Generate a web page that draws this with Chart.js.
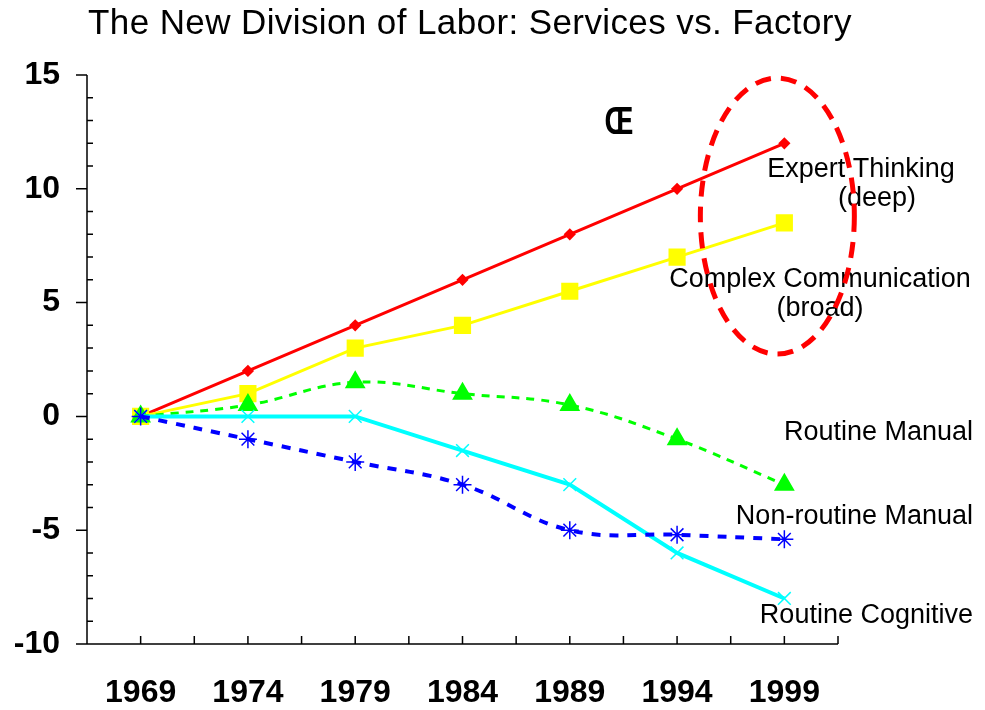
<!DOCTYPE html>
<html>
<head>
<meta charset="utf-8">
<script src="https://cdn.jsdelivr.net/npm/chart.js@4.4.1/dist/chart.umd.min.js"></script>
<style>
  html, body { margin: 0; padding: 0; background: #fff; }
  #laborChart { display: block; }
</style>
</head>
<body>
<canvas id="laborChart" width="985" height="710"></canvas>
<script>
// values
const years = ['1969', '1974', '1979', '1984', '1989', '1994', '1999'];
const expertThinking = [0, 2, 4, 6, 8, 10, 12];
const complexCommunication = [0, 1, 3, 4, 5.5, 7, 8.5];
const routineManual = [0, 0.5, 1.5, 1, 0.5, -1, -3];
const routineCognitive = [0, 0, 0, -1.5, -3, -6, -8];
const nonRoutineManual = [0, -1, -2, -3, -5, -5.2, -5.4];
const yTicks = [-10, -5, 0, 5, 10, 15];

const titleText = 'The New Division of Labor: Services vs. Factory';
const FONT = '"Liberation Sans", Arial, sans-serif';

// series labels drawn next to the lines
const seriesLabels = [
  { text: 'Expert Thinking', x: 861, y: 170, align: 'center' },
  { text: '(deep)', x: 877, y: 199, align: 'center' },
  { text: 'Complex Communication', x: 820, y: 280, align: 'center' },
  { text: '(broad)', x: 820, y: 309, align: 'center' },
  { text: 'Routine Manual', x: 973, y: 433, align: 'right' },
  { text: 'Non-routine Manual', x: 973, y: 517, align: 'right' },
  { text: 'Routine Cognitive', x: 973, y: 616, align: 'right' }
];

const decorPlugin = {
  id: 'decor',
  beforeDatasetsDraw(chart) {
    const ctx = chart.ctx;
    const area = chart.chartArea;
    const xs = chart.scales.x;
    const ys = chart.scales.y;
    const half = (xs.getPixelForValue(1) - xs.getPixelForValue(0)) / 2;
    ctx.save();
    ctx.strokeStyle = '#000';
    ctx.lineWidth = 1.5;
    ctx.beginPath();
    ctx.moveTo(area.left, area.top);
    ctx.lineTo(area.left, area.bottom);
    ctx.moveTo(area.left - 11, area.bottom);
    ctx.lineTo(area.right, area.bottom);
    // major ticks outward, minor ticks inward
    yTicks.forEach(v => {
      const p = ys.getPixelForValue(v);
      ctx.moveTo(area.left - 11, p);
      ctx.lineTo(area.left, p);
    });
    for (let v = -10; v <= 15; v++) {
      if (v % 5 === 0) continue;
      const p = ys.getPixelForValue(v);
      ctx.moveTo(area.left, p);
      ctx.lineTo(area.left + 6, p);
    }
    for (let i = 0; i < years.length; i++) {
      const c = xs.getPixelForValue(i);
      ctx.moveTo(c, area.bottom);
      ctx.lineTo(c, area.bottom - 8);
      ctx.moveTo(c + half, area.bottom);
      ctx.lineTo(c + half, area.bottom - 8);
    }
    ctx.stroke();
    ctx.restore();
  },
  afterDraw(chart) {
    const ctx = chart.ctx;
    const xs = chart.scales.x;
    const ys = chart.scales.y;
    ctx.save();
    ctx.fillStyle = '#000';
    ctx.textBaseline = 'alphabetic';
    ctx.font = '35px ' + FONT;
    ctx.letterSpacing = '0.4px';
    ctx.textAlign = 'left';
    ctx.fillText(titleText, 88, 34);
    ctx.letterSpacing = '0px';

    ctx.textBaseline = 'middle';
    ctx.font = '27px ' + FONT;
    seriesLabels.forEach(l => {
      ctx.textAlign = l.align;
      ctx.fillText(l.text, l.x, l.y);
    });

    // stray glyph from the original slide
    ctx.save();
    ctx.translate(619, 123);
    ctx.scale(0.85, 1.15);
    ctx.font = 'bold 34px ' + FONT;
    ctx.textAlign = 'center';
    ctx.fillText('Œ', 0, 0);
    ctx.restore();

    // dashed ellipse around the two rising series at 1999
    const cx = xs.getPixelForValue(6) - 7;
    const cy = ys.getPixelForValue(8.8);
    ctx.strokeStyle = '#ff0000';
    ctx.lineWidth = 5;
    ctx.setLineDash([16, 10]);
    ctx.beginPath();
    ctx.ellipse(cx, cy, 77, 138, 0, 0, Math.PI * 2);
    ctx.stroke();
    ctx.restore();
  }
};

const ctx = document.getElementById('laborChart').getContext('2d');

new Chart(ctx, {
  type: 'line',
  data: {
    labels: years,
    datasets: [
      {
        label: 'Expert Thinking (deep)',
        data: expertThinking,
        borderColor: '#ff0000',
        backgroundColor: '#ff0000',
        borderWidth: 3,
        pointStyle: 'rectRot',
        pointRadius: 4,
        tension: 0,
        order: 5
      },
      {
        label: 'Complex Communication (broad)',
        data: complexCommunication,
        borderColor: '#ffff00',
        backgroundColor: '#ffff00',
        borderWidth: 3,
        pointStyle: 'rect',
        pointRadius: 10,
        tension: 0,
        order: 4
      },
      {
        label: 'Routine Manual',
        data: routineManual,
        borderColor: '#00ff00',
        backgroundColor: '#00ff00',
        borderWidth: 3,
        borderDash: [8, 7],
        pointStyle: 'triangle',
        pointRadius: 9,
        tension: 0.4,
        order: 3
      },
      {
        label: 'Routine Cognitive',
        data: routineCognitive,
        borderColor: '#00ffff',
        backgroundColor: '#00ffff',
        pointBorderColor: '#00ffff',
        pointBorderWidth: 1.5,
        borderWidth: 4,
        pointStyle: 'crossRot',
        pointRadius: 9,
        tension: 0,
        order: 2
      },
      {
        label: 'Non-routine Manual',
        data: nonRoutineManual,
        borderColor: '#0000ff',
        backgroundColor: '#0000ff',
        pointBorderColor: '#0000ff',
        pointBorderWidth: 1.5,
        borderWidth: 4,
        borderDash: [9, 9],
        pointStyle: 'star',
        pointRadius: 9,
        tension: 0.4,
        order: 1
      }
    ]
  },
  options: {
    responsive: false,
    animation: false,
    layout: {
      padding: { top: 75, right: 147, left: 0, bottom: 0 }
    },
    plugins: {
      legend: { display: false },
      title: { display: false },
      tooltip: { enabled: false }
    },
    scales: {
      x: {
        type: 'category',
        offset: true,
        border: { display: false },
        grid: { display: false, drawTicks: false },
        ticks: {
          color: '#000',
          padding: 30,
          maxRotation: 0,
          font: { family: FONT, size: 32, weight: 'bold' }
        },
        afterFit(scale) { scale.height = 66; }
      },
      y: {
        min: -10,
        max: 15,
        border: { display: false },
        grid: { display: false, drawTicks: false },
        ticks: {
          stepSize: 5,
          color: '#000',
          padding: 27,
          font: { family: FONT, size: 32, weight: 'bold' }
        },
        afterFit(scale) { scale.width = 87; }
      }
    }
  },
  plugins: [decorPlugin]
});
</script>
</body>
</html>
